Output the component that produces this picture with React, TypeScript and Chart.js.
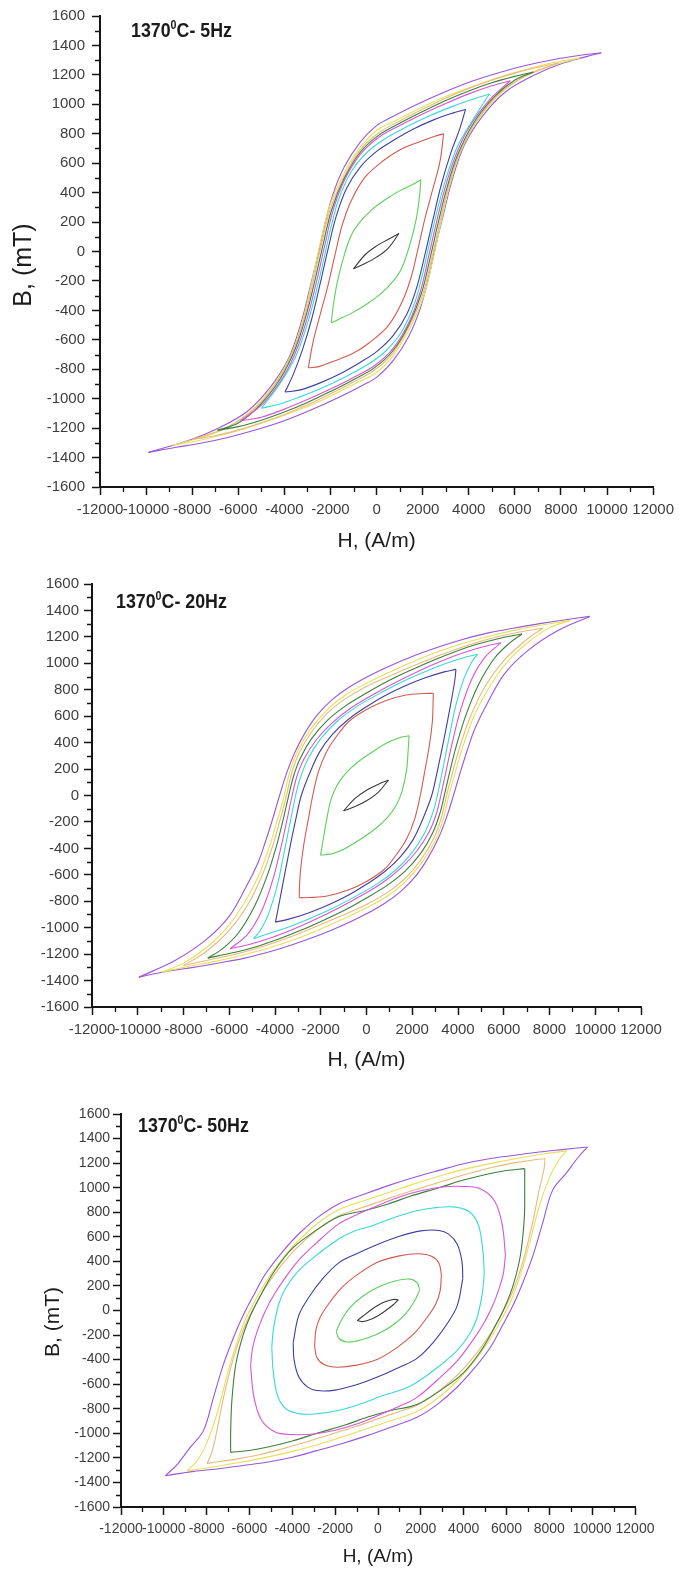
import React, { useEffect, useRef } from 'react';
import { Chart, registerables } from 'chart.js';

Chart.register(...registerables);

type P = [number, number];

const FONT = 'Arial, "Liberation Sans", Helvetica, sans-serif';

const LOOP_COLORS = ['#3a3a3a', '#5ccf5c', '#d45a50', '#3f3f9f', '#3ad8d8', '#d655d6', '#3b7f3b', '#e9b97a', '#e6df5a', '#9a56da'];

const H_TICKS = [-12000, -10000, -8000, -6000, -4000, -2000, 0, 2000, 4000, 6000, 8000, 10000, 12000];
const B_TICKS = [-1600, -1400, -1200, -1000, -800, -600, -400, -200, 0, 200, 400, 600, 800, 1000, 1200, 1400, 1600];

const X_TITLE = 'H, (A/m)';
const Y_TITLE = 'B, (mT)';

// ---------------- 5 Hz : descending branches (upper tip -> lower tip)
const F5_DESC: P[][] = [
  [[970,122],[500,82],[0,38],[-500,-22],[-1000,-118]],
  [[1920,488],[1650,462],[1000,412],[400,355],[-200,285],[-700,205],[-1100,110],[-1450,-50],[-1720,-220],[-1880,-370],[-1970,-485]],
  [[2910,800],[2500,782],[1900,748],[1000,690],[300,618],[-500,505],[-1100,345],[-1500,175],[-1800,-20],[-2100,-225],[-2450,-430],[-2750,-610],[-2960,-790]],
  [[3860,965],[3300,940],[2500,896],[1600,832],[700,752],[0,680],[-700,575],[-1300,430],[-1750,240],[-2100,20],[-2450,-220],[-2800,-450],[-3200,-660],[-3600,-830],[-3970,-955]],
  [[4890,1070],[4200,1036],[3300,986],[2300,922],[1300,847],[400,770],[-400,676],[-1100,542],[-1650,352],[-2000,150],[-2300,-60],[-2650,-290],[-3000,-490],[-3500,-710],[-4200,-900],[-4990,-1065]],
  [[5800,1160],[5000,1126],[4000,1071],[3000,1006],[2000,935],[1000,856],[100,776],[-700,661],[-1400,482],[-1900,272],[-2250,40],[-2600,-200],[-2950,-420],[-3400,-640],[-4000,-840],[-4900,-1030],[-5900,-1150]],
  [[6800,1220],[6000,1190],[5000,1146],[4000,1091],[3000,1026],[2000,951],[1000,871],[100,791],[-700,676],[-1400,497],[-1950,282],[-2330,40],[-2680,-200],[-3030,-420],[-3500,-650],[-4200,-870],[-5100,-1050],[-6000,-1165],[-6900,-1215]],
  [[7900,1280],[7000,1252],[6000,1212],[5000,1163],[4000,1107],[3000,1042],[2000,967],[1000,887],[100,807],[-700,692],[-1400,512],[-2000,292],[-2400,42],[-2750,-200],[-3100,-430],[-3600,-670],[-4350,-890],[-5300,-1070],[-6500,-1195],[-7950,-1275]],
  [[8800,1315],[7800,1287],[6800,1250],[5800,1207],[4800,1157],[3800,1101],[2800,1040],[1800,967],[800,888],[0,822],[-700,712],[-1450,520],[-2050,302],[-2450,52],[-2800,-200],[-3150,-435],[-3650,-680],[-4450,-905],[-5500,-1090],[-6800,-1220],[-8850,-1318]],
  [[9750,1350],[8700,1330],[7700,1305],[6500,1265],[5300,1215],[4100,1155],[2900,1080],[1700,995],[600,908],[0,855],[-700,745],[-1400,575],[-1900,385],[-2250,182],[-2550,-30],[-2850,-220],[-3250,-470],[-3800,-720],[-4600,-920],[-5600,-1085],[-6800,-1195],[-8100,-1280],[-9900,-1365]],
];
// 5 Hz : ascending branches (lower tip -> upper tip)
const F5_ASC: P[][] = [
  [[-1000,-118],[-500,-82],[0,-38],[500,22],[970,122]],
  [[-1970,-485],[-1650,-462],[-1000,-412],[-400,-355],[200,-285],[700,-205],[1100,-110],[1450,50],[1720,220],[1860,370],[1920,488]],
  [[-2960,-790],[-2500,-782],[-1900,-748],[-1000,-690],[-300,-618],[500,-505],[1100,-345],[1500,-175],[1800,20],[2100,225],[2450,430],[2750,610],[2910,800]],
  [[-3970,-955],[-3300,-940],[-2500,-896],[-1600,-832],[-700,-752],[0,-680],[700,-575],[1300,-430],[1750,-240],[2100,-20],[2450,220],[2800,450],[3200,660],[3600,830],[3860,965]],
  [[-4990,-1065],[-4200,-1036],[-3300,-986],[-2300,-922],[-1300,-847],[-400,-770],[400,-676],[1100,-542],[1650,-352],[2000,-150],[2300,60],[2650,290],[3000,490],[3500,710],[4200,900],[4890,1070]],
  [[-5900,-1150],[-5000,-1126],[-4000,-1071],[-3000,-1006],[-2000,-935],[-1000,-856],[-100,-776],[700,-661],[1400,-482],[1900,-272],[2250,-40],[2600,200],[2950,420],[3400,640],[4000,840],[4900,1030],[5800,1160]],
  [[-6900,-1215],[-6000,-1190],[-5000,-1146],[-4000,-1091],[-3000,-1026],[-2000,-951],[-1000,-871],[-100,-791],[700,-676],[1400,-497],[1950,-282],[2330,-40],[2680,200],[3030,420],[3500,650],[4200,870],[5100,1050],[6000,1165],[6800,1220]],
  [[-7950,-1275],[-7000,-1252],[-6000,-1212],[-5000,-1163],[-4000,-1107],[-3000,-1042],[-2000,-967],[-1000,-887],[-100,-807],[700,-692],[1400,-512],[2000,-292],[2400,-42],[2750,200],[3100,430],[3600,670],[4350,890],[5300,1070],[6500,1195],[7900,1280]],
  [[-8850,-1318],[-7800,-1287],[-6800,-1250],[-5800,-1207],[-4800,-1157],[-3800,-1101],[-2800,-1040],[-1800,-967],[-800,-888],[0,-822],[700,-712],[1450,-520],[2050,-302],[2450,-52],[2800,200],[3150,435],[3650,680],[4450,905],[5500,1090],[6800,1220],[8800,1315]],
  [[-9900,-1365],[-8700,-1330],[-7700,-1305],[-6500,-1265],[-5300,-1215],[-4100,-1155],[-2900,-1080],[-1700,-995],[-600,-908],[0,-855],[700,-745],[1400,-575],[1900,-385],[2250,-182],[2550,30],[2850,220],[3250,470],[3800,720],[4600,920],[5600,1085],[6800,1195],[8100,1280],[9750,1350]],
];

// ---------------- 20 Hz
const F20_DESC: P[][] = [
  [[960,116],[500,84],[0,40],[-500,-22],[-1000,-116]],
  [[1860,452],[1500,440],[990,406],[300,335],[-400,250],[-900,170],[-1280,80],[-1550,-30],[-1750,-190],[-1900,-340],[-2010,-452]],
  [[2920,773],[2500,772],[1720,760],[800,715],[0,650],[-770,560],[-1300,450],[-1750,330],[-2100,180],[-2350,0],[-2550,-187],[-2750,-380],[-2880,-560],[-2930,-690],[-2940,-773]],
  [[3910,954],[3400,935],[2600,892],[1700,830],[800,755],[0,672],[-800,575],[-1500,460],[-2050,330],[-2480,170],[-2850,0],[-3100,-187],[-3380,-420],[-3680,-690],[-3880,-870],[-3980,-958]],
  [[4860,1068],[4200,1040],[3400,994],[2500,932],[1500,855],[500,765],[-500,665],[-1300,560],[-2000,430],[-2550,280],[-2900,130],[-3100,0],[-3320,-187],[-3600,-430],[-3900,-680],[-4250,-880],[-4600,-1010],[-4930,-1083]],
  [[5880,1156],[5100,1125],[4200,1078],[3200,1012],[2200,935],[1200,850],[200,755],[-700,660],[-1500,550],[-2200,420],[-2750,270],[-3050,140],[-3250,0],[-3480,-187],[-3750,-400],[-4100,-640],[-4600,-880],[-5200,-1050],[-5960,-1159]],
  [[6800,1222],[5900,1192],[4900,1148],[3900,1090],[2900,1022],[1900,945],[900,862],[0,775],[-900,680],[-1700,570],[-2400,430],[-2900,280],[-3200,140],[-3400,0],[-3650,-187],[-3950,-390],[-4350,-610],[-4900,-840],[-5600,-1040],[-6300,-1160],[-6940,-1230]],
  [[7710,1265],[6700,1237],[5600,1195],[4500,1140],[3400,1074],[2300,998],[1200,918],[0,825],[-900,735],[-1700,625],[-2400,480],[-2950,320],[-3270,170],[-3500,0],[-3780,-187],[-4100,-380],[-4550,-600],[-5200,-830],[-6000,-1020],[-7000,-1180],[-8000,-1286]],
  [[8880,1323],[7800,1293],[6600,1255],[5400,1207],[4200,1150],[3000,1080],[2000,1010],[1000,932],[0,850],[-900,762],[-1700,652],[-2450,500],[-3000,340],[-3350,180],[-3600,0],[-3900,-187],[-4250,-390],[-4700,-600],[-5300,-800],[-6100,-1000],[-7000,-1150],[-8000,-1268],[-8950,-1336]],
  [[9760,1355],[8700,1330],[7570,1300],[6400,1265],[5370,1232],[4200,1180],[3180,1125],[2000,1052],[990,978],[0,895],[-800,815],[-1500,725],[-2150,610],[-2700,470],[-3150,320],[-3500,165],[-3800,0],[-4120,-187],[-4420,-350],[-4750,-510],[-5290,-700],[-6030,-920],[-7050,-1096],[-8370,-1248],[-9950,-1374]],
];
const F20_ASC: P[][] = [
  [[-1000,-116],[-500,-84],[0,-40],[500,22],[960,116]],
  [[-2010,-452],[-1500,-440],[-990,-406],[-300,-335],[400,-250],[900,-170],[1280,-80],[1550,30],[1750,190],[1820,340],[1860,452]],
  [[-2940,-773],[-2500,-772],[-1720,-760],[-800,-715],[0,-650],[770,-560],[1300,-450],[1750,-330],[2100,-180],[2350,0],[2550,187],[2750,380],[2880,560],[2910,690],[2920,773]],
  [[-3980,-958],[-3400,-935],[-2600,-892],[-1700,-830],[-800,-755],[0,-672],[800,-575],[1500,-460],[2050,-330],[2480,-170],[2850,0],[3100,187],[3380,420],[3680,690],[3860,870],[3910,954]],
  [[-4930,-1083],[-4200,-1040],[-3400,-994],[-2500,-932],[-1500,-855],[-500,-765],[500,-665],[1300,-560],[2000,-430],[2550,-280],[2900,-130],[3100,0],[3320,187],[3600,430],[3900,680],[4250,880],[4600,1010],[4860,1068]],
  [[-5960,-1159],[-5100,-1125],[-4200,-1078],[-3200,-1012],[-2200,-935],[-1200,-850],[-200,-755],[700,-660],[1500,-550],[2200,-420],[2750,-270],[3050,-140],[3250,0],[3480,187],[3750,400],[4100,640],[4600,880],[5200,1050],[5880,1156]],
  [[-6940,-1230],[-5900,-1192],[-4900,-1148],[-3900,-1090],[-2900,-1022],[-1900,-945],[-900,-862],[0,-775],[900,-680],[1700,-570],[2400,-430],[2900,-280],[3200,-140],[3400,0],[3650,187],[3950,390],[4350,610],[4900,840],[5600,1040],[6300,1160],[6800,1222]],
  [[-8000,-1286],[-6700,-1237],[-5600,-1195],[-4500,-1140],[-3400,-1074],[-2300,-998],[-1200,-918],[0,-825],[900,-735],[1700,-625],[2400,-480],[2950,-320],[3270,-170],[3500,0],[3780,187],[4100,380],[4550,600],[5200,830],[6000,1020],[7000,1180],[7710,1265]],
  [[-8950,-1336],[-7800,-1293],[-6600,-1255],[-5400,-1207],[-4200,-1150],[-3000,-1080],[-2000,-1010],[-1000,-932],[0,-850],[900,-762],[1700,-652],[2450,-500],[3000,-340],[3350,-180],[3600,0],[3900,187],[4250,390],[4700,600],[5300,800],[6100,1000],[7000,1150],[8000,1268],[8880,1323]],
  [[-9950,-1374],[-8700,-1330],[-7570,-1300],[-6400,-1265],[-5370,-1232],[-4200,-1180],[-3180,-1125],[-2000,-1052],[-990,-978],[0,-895],[800,-815],[1500,-725],[2150,-610],[2700,-470],[3150,-320],[3500,-165],[3800,0],[4120,187],[4420,350],[4750,510],[5290,700],[6030,920],[7050,1096],[8370,1248],[9760,1355]],
];

// ---------------- 50 Hz
const F50_DESC: P[][] = [
  [[950,87],[700,90],[300,70],[0,42],[-300,8],[-700,-45],[-970,-82]],
  [[1950,170],[1820,228],[1450,256],[800,240],[0,190],[-700,118],[-1300,25],[-1700,-75],[-1950,-170]],
  [[2960,290],[2850,385],[2500,442],[1900,462],[1000,445],[0,395],[-900,300],[-1700,185],[-2300,55],[-2700,-55],[-2900,-160],[-2960,-290]],
  [[3960,260],[3920,400],[3700,540],[3300,622],[2850,652],[2000,648],[1000,605],[0,540],[-1000,462],[-1820,390],[-2600,255],[-3220,110],[-3700,-40],[-3960,-260]],
  [[4960,300],[4900,480],[4700,690],[4300,800],[3630,842],[2800,840],[1800,812],[800,760],[-200,695],[-1200,640],[-1820,584],[-2800,460],[-3690,326],[-4300,185],[-4630,55],[-4880,-150],[-4960,-300]],
  [[5950,450],[5800,700],[5450,890],[4800,990],[4000,1010],[3000,1005],[2000,975],[1000,925],[0,855],[-1000,780],[-1820,707],[-2910,544],[-3700,410],[-4310,272],[-4850,130],[-5250,0],[-5600,-150],[-5850,-300],[-5950,-450]],
  [[6850,1155],[6000,1140],[5190,1114],[4000,1062],[2850,1000],[1500,930],[510,870],[-600,815],[-1820,765],[-3000,640],[-4000,505],[-4800,330],[-5400,150],[-5900,-20],[-6300,-200],[-6650,-450],[-6830,-750],[-6880,-1000],[-6880,-1155]],
  [[7800,1236],[7400,1230],[6500,1206],[5500,1172],[4500,1127],[3400,1072],[2200,1007],[1000,942],[0,882],[-1000,822],[-1820,772],[-2800,662],[-3700,527],[-4500,372],[-5200,202],[-5800,22],[-6280,-150],[-6740,-381],[-7210,-707],[-7520,-978],[-7750,-1150],[-7980,-1245]],
  [[8800,1300],[7800,1276],[6600,1242],[5400,1202],[4200,1157],[3000,1102],[1800,1037],[600,967],[-600,897],[-1820,822],[-2800,712],[-3700,572],[-4500,412],[-5200,242],[-5800,62],[-6280,-108],[-6900,-435],[-7520,-842],[-8000,-1080],[-8450,-1225],[-8900,-1304]],
  [[9780,1331],[8600,1310],[7520,1290],[6300,1262],[5190,1236],[4000,1195],[2850,1141],[1700,1085],[510,1019],[-600,950],[-1820,870],[-2800,760],[-3690,625],[-4500,470],[-5250,299],[-5850,110],[-6300,-40],[-6700,-200],[-7210,-435],[-7680,-707],[-8150,-978],[-8770,-1114],[-9360,-1250],[-9920,-1345]],
];
const F50_ASC: P[][] = [
  [[-970,-82],[-700,-90],[-300,-70],[0,-42],[300,-8],[700,45],[950,87]],
  [[-1950,-170],[-1820,-228],[-1450,-256],[-800,-240],[0,-190],[700,-118],[1300,-25],[1700,75],[1950,170]],
  [[-2960,-290],[-2850,-385],[-2500,-442],[-1900,-462],[-1000,-445],[0,-395],[900,-300],[1700,-185],[2300,-55],[2700,55],[2900,160],[2960,290]],
  [[-3960,-260],[-3920,-400],[-3700,-540],[-3300,-622],[-2850,-652],[-2000,-648],[-1000,-605],[0,-540],[1000,-462],[1820,-390],[2600,-255],[3220,-110],[3700,40],[3960,260]],
  [[-4960,-300],[-4900,-480],[-4700,-690],[-4300,-800],[-3630,-842],[-2800,-840],[-1800,-812],[-800,-760],[200,-695],[1200,-640],[1820,-584],[2800,-460],[3690,-326],[4300,-185],[4630,-55],[4880,150],[4960,300]],
  [[-5950,-450],[-5800,-700],[-5450,-890],[-4800,-990],[-4000,-1010],[-3000,-1005],[-2000,-975],[-1000,-925],[0,-855],[1000,-780],[1820,-707],[2910,-544],[3700,-410],[4310,-272],[4850,-130],[5250,0],[5600,150],[5850,300],[5950,450]],
  [[-6880,-1155],[-6000,-1140],[-5190,-1114],[-4000,-1062],[-2850,-1000],[-1500,-930],[-510,-870],[600,-815],[1820,-765],[3000,-640],[4000,-505],[4800,-330],[5400,-150],[5900,20],[6300,200],[6650,450],[6830,750],[6850,1000],[6850,1155]],
  [[-7980,-1245],[-7400,-1230],[-6500,-1206],[-5500,-1172],[-4500,-1127],[-3400,-1072],[-2200,-1007],[-1000,-942],[0,-882],[1000,-822],[1820,-772],[2800,-662],[3700,-527],[4500,-372],[5200,-202],[5800,-22],[6280,150],[6740,381],[7210,707],[7520,978],[7750,1150],[7800,1236]],
  [[-8900,-1304],[-7800,-1276],[-6600,-1242],[-5400,-1202],[-4200,-1157],[-3000,-1102],[-1800,-1037],[-600,-967],[600,-897],[1820,-822],[2800,-712],[3700,-572],[4500,-412],[5200,-242],[5800,-62],[6280,108],[6900,435],[7520,842],[8000,1080],[8450,1225],[8800,1300]],
  [[-9920,-1345],[-8600,-1310],[-7520,-1290],[-6300,-1262],[-5190,-1236],[-4000,-1195],[-2850,-1141],[-1700,-1085],[-510,-1019],[600,-950],[1820,-870],[2800,-760],[3690,-625],[4500,-470],[5250,-299],[5850,-110],[6300,40],[6700,200],[7210,435],[7680,707],[8150,978],[8770,1114],[9360,1250],[9780,1331]],
];

interface PanelCfg {
  label: string;
  freq: string;
  top: number;
  height: number;
  plotLeft: number;
  plotRight: number;
  plotTop: number;
  plotBottom: number;
  tickFont: number;
  yTickPad: number;
  xTitleFont: number;
  xTitleCenter: number;
  yTitle: boolean;
  yTitleFont: number;
  yTitleX: number;
  yTitleY: number;
  labelLeft: number;
  labelBaseline: number;
  desc: P[][];
  asc: P[][];
}

const PANELS: PanelCfg[] = [
  { label: '1370', freq: 'C- 5Hz', top: 0, height: 560, plotLeft: 100, plotRight: 657, plotTop: 15, plotBottom: 487, tickFont: 15, yTickPad: 7, xTitleFont: 21, xTitleCenter: 541, yTitle: true, yTitleFont: 25, yTitleX: 24, yTitleY: 265, labelLeft: 131, labelBaseline: 37, desc: F5_DESC, asc: F5_ASC },
  { label: '1370', freq: 'C- 20Hz', top: 560, height: 520, plotLeft: 92, plotRight: 641, plotTop: 584, plotBottom: 1007, tickFont: 15, yTickPad: 5, xTitleFont: 21, xTitleCenter: 1060, yTitle: false, yTitleFont: 22, yTitleX: 24, yTitleY: 0, labelLeft: 116, labelBaseline: 608, desc: F20_DESC, asc: F20_ASC },
  { label: '1370', freq: 'C- 50Hz', top: 1080, height: 493, plotLeft: 121, plotRight: 635, plotTop: 1114, plotBottom: 1507, tickFont: 14, yTickPad: 3, xTitleFont: 19, xTitleCenter: 1557, yTitle: true, yTitleFont: 21, yTitleX: 53, yTitleY: 1322, labelLeft: 138, labelBaseline: 1132, desc: F50_DESC, asc: F50_ASC },
];

const AXIS_COLOR = '#151515';
const TICK_LABEL_COLOR = '#3d3d3d';

const minorTicks = {
  id: 'minorTicks',
  afterDraw(chart: any) {
    const { ctx, chartArea } = chart;
    const xs = chart.scales.x;
    const ys = chart.scales.y;
    ctx.save();
    ctx.strokeStyle = AXIS_COLOR;
    ctx.lineWidth = 1.3;
    ctx.beginPath();
    for (let i = 0; i < H_TICKS.length - 1; i++) {
      const v = (H_TICKS[i] + H_TICKS[i + 1]) / 2;
      const px = Math.round(xs.getPixelForValue(v)) + 0.5;
      ctx.moveTo(px, chartArea.bottom);
      ctx.lineTo(px, chartArea.bottom + 5);
    }
    for (let i = 0; i < B_TICKS.length - 1; i++) {
      const v = (B_TICKS[i] + B_TICKS[i + 1]) / 2;
      const py = Math.round(ys.getPixelForValue(v)) + 0.5;
      ctx.moveTo(chartArea.left, py);
      ctx.lineTo(chartArea.left - 5, py);
    }
    ctx.stroke();
    ctx.restore();
  },
};

// rotated y-axis title drawn on the chart canvas at a chosen spot
const yTitlePlugin = {
  id: 'yTitleText',
  afterDraw(chart: any, _args: any, opts: any) {
    if (!opts || !opts.display) return;
    const { ctx } = chart;
    ctx.save();
    ctx.translate(opts.x, opts.y);
    ctx.rotate(-Math.PI / 2);
    ctx.font = `${opts.size}px ${FONT}`;
    ctx.fillStyle = '#1c1c1c';
    ctx.textAlign = 'center';
    ctx.textBaseline = 'middle';
    ctx.fillText(opts.text, 0, 0);
    ctx.restore();
  },
};

function Panel({ cfg }: { cfg: PanelCfg }) {
  const ref = useRef<HTMLCanvasElement>(null);
  useEffect(() => {
    if (!ref.current) return;
    const datasets: any[] = [];
    cfg.desc.forEach((branch, i) => {
      const common = {
        borderColor: LOOP_COLORS[i],
        backgroundColor: LOOP_COLORS[i],
        borderWidth: 1.1,
        showLine: true,
        pointRadius: 0,
        tension: 0.35,
        fill: false,
      };
      datasets.push({ ...common, data: branch.map(([x, y]) => ({ x, y })) });
      datasets.push({ ...common, data: cfg.asc[i].map(([x, y]) => ({ x, y })) });
    });
    const xTitleHalf = (cfg.xTitleFont * 1.2) / 2;
    const chart = new Chart(ref.current, {
      type: 'scatter',
      data: { datasets },
      plugins: [minorTicks, yTitlePlugin],
      options: {
        responsive: false,
        animation: false,
        devicePixelRatio: 1,
        layout: {
          padding: { left: 0, right: 680 - cfg.plotRight, top: cfg.plotTop - cfg.top, bottom: 0 },
        },
        plugins: {
          legend: { display: false },
          tooltip: { enabled: false },
          title: { display: false },
          yTitleText: {
            display: cfg.yTitle,
            text: Y_TITLE,
            size: cfg.yTitleFont,
            x: cfg.yTitleX,
            y: cfg.yTitleY - cfg.top,
          },
        },
        scales: {
          x: {
            type: 'linear',
            min: H_TICKS[0],
            max: H_TICKS[H_TICKS.length - 1],
            afterFit: (s: any) => { s.height = cfg.top + cfg.height - cfg.plotBottom; },
            afterBuildTicks: (s: any) => { s.ticks = H_TICKS.map((v) => ({ value: v })); },
            ticks: {
              autoSkip: false,
              maxRotation: 0,
              minRotation: 0,
              padding: 6,
              color: TICK_LABEL_COLOR,
              font: { family: FONT, size: cfg.tickFont },
              callback: (v: any) => String(v),
            },
            grid: { drawOnChartArea: false, drawTicks: true, tickLength: 8, tickColor: AXIS_COLOR, tickWidth: 1.5 },
            border: { display: true, color: AXIS_COLOR, width: 2 },
            title: {
              display: true,
              text: X_TITLE,
              color: '#1c1c1c',
              font: { family: FONT, size: cfg.xTitleFont },
              padding: { top: 0, bottom: cfg.top + cfg.height - cfg.xTitleCenter - xTitleHalf },
            },
          },
          y: {
            type: 'linear',
            min: B_TICKS[0],
            max: B_TICKS[B_TICKS.length - 1],
            afterFit: (s: any) => { s.width = cfg.plotLeft; },
            afterBuildTicks: (s: any) => { s.ticks = B_TICKS.map((v) => ({ value: v })); },
            ticks: {
              autoSkip: false,
              padding: cfg.yTickPad,
              color: TICK_LABEL_COLOR,
              font: { family: FONT, size: cfg.tickFont },
              callback: (v: any) => String(v),
            },
            grid: { drawOnChartArea: false, drawTicks: true, tickLength: 8, tickColor: AXIS_COLOR, tickWidth: 1.5 },
            border: { display: true, color: AXIS_COLOR, width: 2 },
            title: { display: false },
          },
        },
      } as any,
    });
    return () => chart.destroy();
  }, [cfg]);

  return (
    <>
      <canvas
        ref={ref}
        width={680}
        height={cfg.height}
        style={{ position: 'absolute', left: 0, top: cfg.top, width: 680, height: cfg.height, display: 'block' }}
      />
      <div
        style={{
          position: 'absolute',
          left: cfg.labelLeft,
          top: cfg.labelBaseline - 17,
          font: `bold 20px ${FONT}`,
          lineHeight: '20px',
          color: '#1a1a1a',
          whiteSpace: 'nowrap',
          transform: 'scaleX(0.89)',
          transformOrigin: '0 0',
        }}
      >
        {cfg.label}
        <sup style={{ fontSize: 12, lineHeight: 0, verticalAlign: 8 }}>0</sup>
        {cfg.freq}
      </div>
    </>
  );
}

export default function App() {
  return (
    <div style={{ position: 'absolute', left: 0, top: 0, width: 680, height: 1573, background: '#ffffff', overflow: 'hidden' }}>
      {PANELS.map((p, i) => (
        <Panel key={i} cfg={p} />
      ))}
    </div>
  );
}
